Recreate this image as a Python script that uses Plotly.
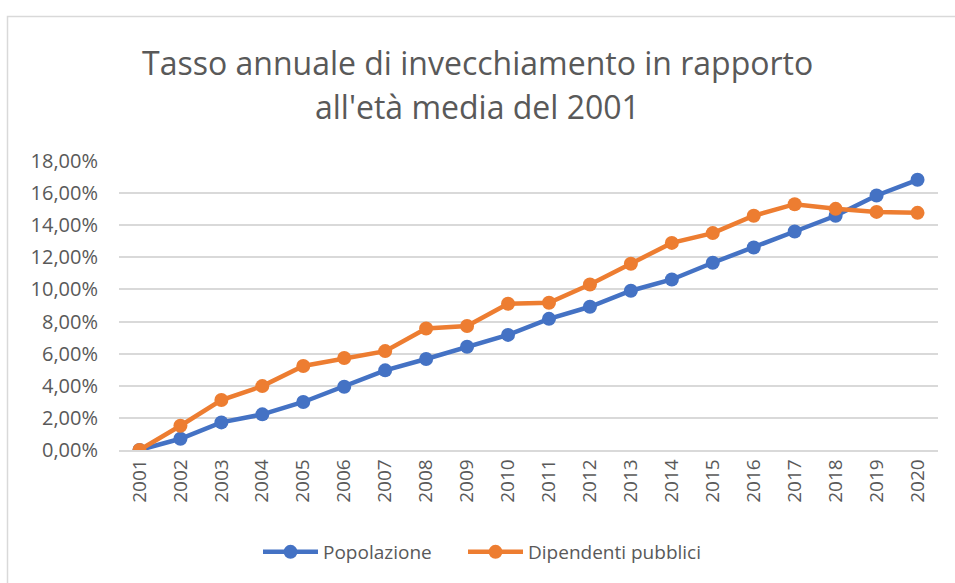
import plotly.graph_objects as go

anni = [str(y) for y in range(2001, 2021)]
popolazione = [0.0, 0.0070, 0.0172, 0.0222, 0.0299, 0.0394, 0.0496, 0.0567, 0.0643, 0.0717,
               0.0817, 0.0892, 0.0992, 0.1062, 0.1166, 0.1261, 0.1361, 0.1459, 0.1585, 0.1683]
dipendenti = [0.0, 0.0151, 0.0311, 0.0398, 0.0523, 0.0573, 0.0616, 0.0757, 0.0772, 0.0911,
              0.0917, 0.1031, 0.1160, 0.1290, 0.1351, 0.1459, 0.1531, 0.1502, 0.1483, 0.1477]
titolo = ["Tasso annuale di invecchiamento in rapporto", "all'età media del 2001"]

FONT = "Open Sans"
GREY = "#595959"

fig = go.Figure()
fig.add_trace(go.Scatter(x=anni, y=popolazione, name="Popolazione", mode="lines+markers",
                         line=dict(color="#4472C4", width=4.5),
                         marker=dict(color="#4472C4", size=14), legend="legend"))
fig.add_trace(go.Scatter(x=anni, y=dipendenti, name="Dipendenti pubblici", mode="lines+markers",
                         line=dict(color="#ED7D31", width=4.5),
                         marker=dict(color="#ED7D31", size=14), legend="legend2"))

L, R, T, B = 119, 17, 161, 133
W, H = 955, 583
pw, ph = W - L - R, H - T - B


def leg(xpx):
    return dict(orientation="h", x=(xpx - L) / pw, xanchor="left",
                y=(H - B - 552) / ph, yanchor="middle",
                font=dict(family=FONT, size=19, color=GREY),
                itemwidth=55, bgcolor="rgba(0,0,0,0)")


fig.update_layout(
    width=W, height=H,
    margin=dict(l=L, r=R, t=T, b=B, autoexpand=False),
    paper_bgcolor="white", plot_bgcolor="white",
    separators=",.",
    font=dict(family=FONT, color=GREY, size=19),
    showlegend=True,
    legend=leg(258),
    legend2=leg(463),
    xaxis=dict(type="category", range=[-0.5, 19.5], tickangle=-90,
               showgrid=False, showline=True, linecolor="#D9D9D9", linewidth=1.5,
               ticks="", tickfont=dict(family=FONT, size=19, color=GREY), fixedrange=True),
    yaxis=dict(range=[0, 0.18], dtick=0.02, tickformat=".2%",
               showgrid=True, gridcolor="#D9D9D9", gridwidth=1.5,
               zeroline=False, showline=False, ticks="", ticklen=0,
               ticklabelstandoff=20,
               tickfont=dict(family=FONT, size=20, color=GREY), fixedrange=True),
)

# title lines
for txt, yc in zip(titolo, [62, 106]):
    fig.add_annotation(text=txt, xref="paper", yref="paper",
                       x=(W / 2 - L) / pw, y=(H - B - yc) / ph,
                       xanchor="center", yanchor="middle", showarrow=False,
                       font=dict(family=FONT, size=32, color=GREY))

# outer chart border (light grey frame)
fig.add_shape(type="rect", xref="paper", yref="paper",
              x0=(7.5 - L) / pw, x1=(W + 5 - L) / pw,
              y0=(H - B - (H + 5)) / ph, y1=(H - B - 16.5) / ph,
              line=dict(color="#D9D9D9", width=1.5), fillcolor="rgba(0,0,0,0)", layer="below")

fig.write_html("out.html", config={"displayModeBar": False},
               post_script="document.body.style.margin='0';document.body.style.overflow='hidden';")
